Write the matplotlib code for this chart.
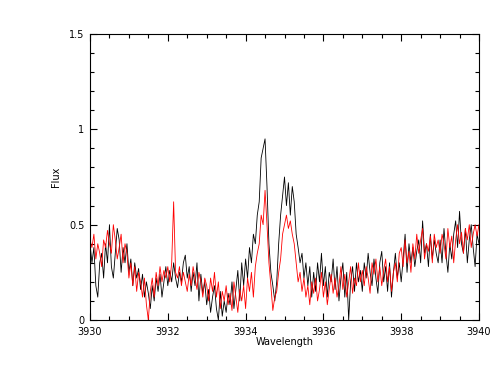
import numpy as np
import matplotlib
matplotlib.use("Agg")
import matplotlib.pyplot as plt
from matplotlib.ticker import MultipleLocator, FuncFormatter

# wavelength grid (Angstrom)
wavelength = np.linspace(3930.0, 3940.0, 201)

flux_black = [
    0.40, 0.30, 0.38, 0.18, 0.12, 0.30, 0.35, 0.22, 0.40, 0.30,
    0.50, 0.28, 0.22, 0.35, 0.48, 0.42, 0.25, 0.38, 0.30, 0.40,
    0.25, 0.32, 0.18, 0.30, 0.22, 0.27, 0.16, 0.24, 0.12, 0.20,
    0.14, 0.06, 0.18, 0.10, 0.22, 0.15, 0.24, 0.12, 0.20, 0.28,
    0.18, 0.26, 0.20, 0.30, 0.22, 0.17, 0.25, 0.20, 0.30, 0.34,
    0.22, 0.28, 0.15, 0.25, 0.18, 0.30, 0.10, 0.24, 0.14, 0.20,
    0.08, 0.16, 0.04, 0.12, 0.18, 0.06, 0.00, 0.15, 0.02, 0.10,
    0.04, 0.14, 0.08, 0.20, 0.06, 0.16, 0.26, 0.10, 0.30, 0.18,
    0.32, 0.22, 0.38, 0.30, 0.45, 0.40, 0.55, 0.62, 0.85, 0.90,
    0.95, 0.70, 0.40, 0.25, 0.18, 0.10, 0.20, 0.40, 0.55, 0.65,
    0.75, 0.60, 0.72, 0.55, 0.70, 0.62, 0.45, 0.38, 0.30, 0.35,
    0.22, 0.30, 0.18, 0.28, 0.12, 0.25, 0.15, 0.30, 0.20, 0.35,
    0.18, 0.28, 0.12, 0.25, 0.20, 0.32, 0.16, 0.28, 0.10, 0.22,
    0.30, 0.12, 0.25, 0.00, 0.20, 0.28, 0.15, 0.30, 0.20, 0.26,
    0.15, 0.30, 0.22, 0.35, 0.25, 0.18, 0.32, 0.22, 0.14, 0.30,
    0.36, 0.20, 0.28, 0.15, 0.30, 0.12, 0.25, 0.35, 0.22, 0.30,
    0.20, 0.32, 0.45, 0.25, 0.40, 0.30, 0.38, 0.28, 0.36, 0.42,
    0.30, 0.52, 0.35, 0.40, 0.28, 0.45, 0.32, 0.42, 0.35, 0.30,
    0.42, 0.30, 0.48, 0.35, 0.25, 0.40, 0.32, 0.45, 0.52, 0.38,
    0.57, 0.40, 0.35, 0.48, 0.30, 0.42, 0.50, 0.38, 0.28, 0.45,
    0.40,
]

flux_red = [
    0.42, 0.38, 0.45, 0.32, 0.40, 0.35, 0.28, 0.42, 0.38, 0.47,
    0.40, 0.35, 0.50, 0.42, 0.32, 0.38, 0.45, 0.30, 0.40, 0.35,
    0.22, 0.30, 0.18, 0.28, 0.15, 0.25, 0.20, 0.12, 0.22, 0.08,
    0.00, 0.15, 0.22, 0.12, 0.25, 0.18, 0.28, 0.20, 0.26, 0.22,
    0.28, 0.20, 0.30, 0.62, 0.25, 0.22, 0.28, 0.18, 0.25, 0.20,
    0.15, 0.24, 0.18, 0.28, 0.22, 0.16, 0.25, 0.20, 0.12, 0.22,
    0.18, 0.10, 0.22, 0.15, 0.25, 0.12, 0.20, 0.06, 0.15, 0.10,
    0.18, 0.08, 0.14, 0.05, 0.20, 0.12, 0.04, 0.16, 0.10, 0.18,
    0.06, 0.22, 0.15, 0.25, 0.12, 0.28, 0.35, 0.40, 0.55, 0.50,
    0.68, 0.50, 0.30, 0.18, 0.05, 0.12, 0.15, 0.25, 0.32, 0.45,
    0.50, 0.55, 0.48, 0.52, 0.45, 0.40, 0.30, 0.20, 0.25, 0.15,
    0.22, 0.12, 0.18, 0.08, 0.20, 0.14, 0.22, 0.10, 0.16, 0.25,
    0.12, 0.20, 0.08, 0.16, 0.24, 0.14, 0.22, 0.12, 0.18, 0.28,
    0.16, 0.24, 0.12, 0.20, 0.28, 0.14, 0.22, 0.18, 0.30, 0.20,
    0.26, 0.18, 0.28, 0.22, 0.14, 0.30, 0.24, 0.32, 0.20, 0.28,
    0.18, 0.26, 0.32, 0.20, 0.28, 0.15, 0.25, 0.30, 0.20, 0.35,
    0.38, 0.28, 0.42, 0.30, 0.36, 0.25, 0.40, 0.32, 0.45, 0.35,
    0.42, 0.48, 0.32, 0.40, 0.36, 0.44, 0.30, 0.45, 0.38, 0.42,
    0.35, 0.45, 0.40, 0.32, 0.48, 0.38, 0.44, 0.30, 0.42, 0.50,
    0.40, 0.46, 0.35, 0.48, 0.42, 0.50, 0.38, 0.45, 0.50, 0.44,
    0.50,
]

x_label = "Wavelength"
y_label = "Flux"

fig = plt.figure(figsize=(4.94, 3.82), dpi=100)
ax = fig.add_axes([90/494, 62/382, 389/494, 286/382])

ax.plot(wavelength, flux_black, color="black", lw=0.6)
ax.plot(wavelength, flux_red, color="red", lw=0.6)

ax.set_xlim(3930, 3940)
ax.set_ylim(0, 1.5)
ax.xaxis.set_major_locator(MultipleLocator(2))
ax.xaxis.set_minor_locator(MultipleLocator(0.5))
ax.yaxis.set_major_locator(MultipleLocator(0.5))
ax.yaxis.set_minor_locator(MultipleLocator(0.1))
ax.yaxis.set_major_formatter(FuncFormatter(lambda v, p: f"{v:g}"))
ax.xaxis.set_major_formatter(FuncFormatter(lambda v, p: f"{v:g}"))

ax.tick_params(which="both", direction="in", top=True, right=True,
               labelsize=7, width=0.8)
ax.tick_params(axis="x", which="major", pad=5)
ax.tick_params(axis="y", which="major", pad=4)
ax.tick_params(which="major", length=5)
ax.tick_params(which="minor", length=3)
for s in ax.spines.values():
    s.set_linewidth(0.8)

ax.set_xlabel(x_label, fontsize=7, labelpad=0)
ax.set_ylabel(y_label, fontsize=7, labelpad=6)

fig.savefig("out.png", dpi=100)
